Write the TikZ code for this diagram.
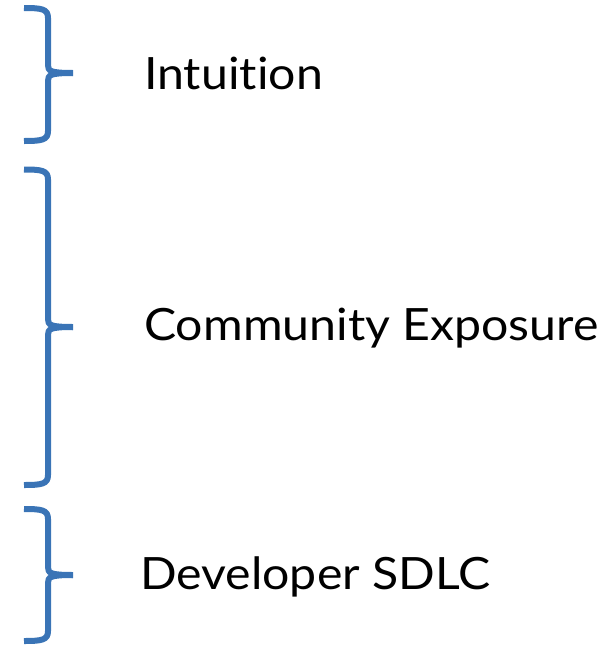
\documentclass[tikz,border=0pt]{standalone}
\usepackage{fontspec}
\setmainfont{Lato}[Ligatures=NoCommon]
\definecolor{braceblue}{RGB}{58,116,182}
\tikzset{
  brace line/.style={draw=braceblue, line width=6pt, line cap=butt, line join=round},
  label text/.style={anchor=base west, inner sep=0pt, text=black,
    font=\fontsize{44.5}{52}\selectfont},
}
% label text, set slightly wide
\newcommand\widetext[1]{\scalebox{1.084}[1]{#1}}
% right-hand curly brace: #1 = top y, #2 = tip y, #3 = bottom y
\newcommand\sidebrace[3]{%
  \draw[brace line] (24,#1) .. controls (42,#1) and (48,{#1+1}) .. (48,{#1+10})
    -- (48,{#2-8}) .. controls (48,{#2-2}) and (50,#2) .. (73,#2);
  \draw[brace line] (24,#3) .. controls (42,#3) and (48,{#3-1}) .. (48,{#3-10})
    -- (48,{#2+8}) .. controls (48,{#2+2}) and (50,#2) .. (73,#2);
}
\begin{document}
\begin{tikzpicture}[x=1pt, y=-1pt]
  \useasboundingbox (0,0) rectangle (610,648);
  \sidebrace{8}{73}{141}
  \sidebrace{169.5}{327}{485}
  \sidebrace{509}{575}{641}
  \node[label text] (intuition) at (144,89) {\widetext{Intuition}};
  \node[label text] (community) at (144,340.5) {\widetext{Community Exposure}};
  \node[label text] (developer) at (140,589) {\widetext{Developer SDLC}};
\end{tikzpicture}
\end{document}
